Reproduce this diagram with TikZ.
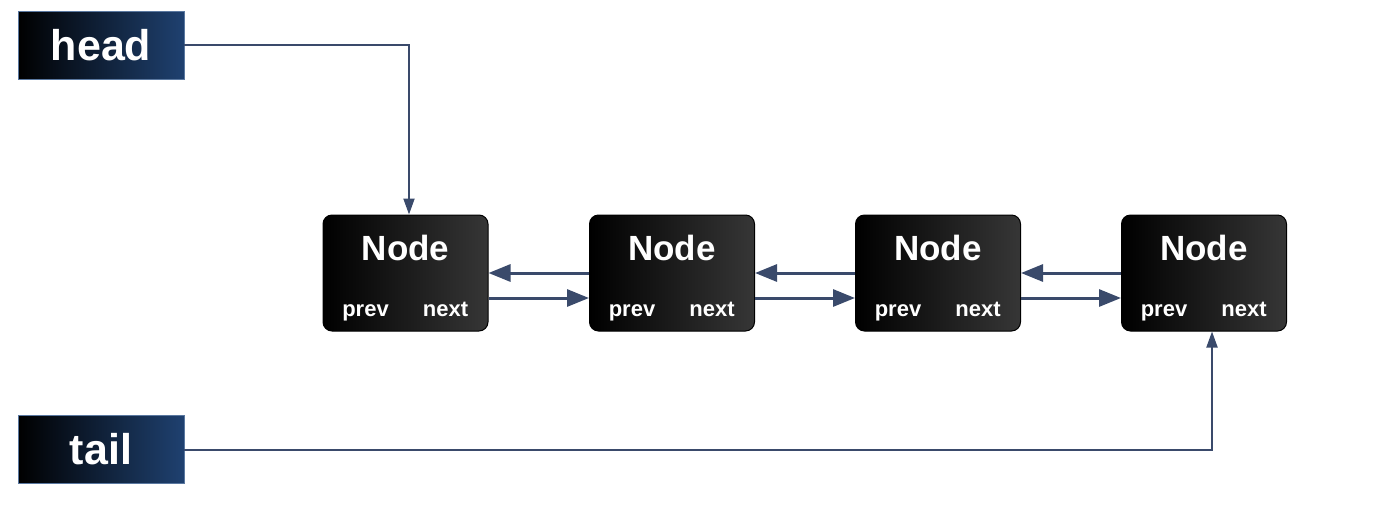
\documentclass[tikz,border=0pt]{standalone}
\usepackage{fontspec}
\setmainfont{Liberation Sans}
\usetikzlibrary{arrows.meta}
\definecolor{arrowc}{HTML}{3A4A6B}
\definecolor{boxblue}{HTML}{1F4170}
\definecolor{boxedge}{HTML}{5A78A0}
\definecolor{nodegray}{HTML}{363636}
\tikzset{
  ptrbox/.style={draw=boxedge, line width=0.8pt, minimum width=166pt, minimum height=68pt,
    left color=black, right color=boxblue, inner sep=0pt},
  listnode/.style={draw=black, line width=1pt, rounded corners=9pt, minimum width=165pt,
    minimum height=116pt, left color=black, right color=nodegray, inner sep=0pt},
  boxtext/.style={text=white, font=\fontsize{43}{43}\selectfont\bfseries, inner sep=0pt},
  nodetitle/.style={text=white, font=\fontsize{35}{35}\selectfont\bfseries, inner sep=0pt},
  fieldtext/.style={text=white, font=\fontsize{22}{22}\selectfont\bfseries, inner sep=0pt},
  ptr/.style={draw=arrowc, line width=3pt, -{Triangle[length=22pt,width=17pt]}},
  thinptr/.style={draw=arrowc, line width=2pt, -{Triangle[length=16pt,width=11pt]}},
}
\begin{document}
\begin{tikzpicture}[x=1pt,y=-1pt]
\useasboundingbox (0,0) rectangle (1384,504);
\node[ptrbox] (head) at (101,45) {};
\node[boxtext] (headt) at (head.center) {head};
\node[ptrbox] (tail) at (101,449.5) {};
\node[boxtext] (tailt) at (tail.center) {tail};
\foreach \i/\x in {1/405.5,2/672,3/938,4/1204}{
  \node[listnode] (n\i) at (\x,273) {};
  \node[nodetitle] (t\i) at (\x,248) {Node};
  \node[fieldtext, anchor=base] (p\i) at (\x-40,316) {prev};
  \node[fieldtext, anchor=base] (x\i) at (\x+40,316) {next};
}
\foreach \a/\b in {1/2,2/3,3/4}{
  \draw[ptr] (n\b.west) -- (n\a.east);
  \draw[ptr] ([yshift=-25pt]n\a.east) -- ([yshift=-25pt]n\b.west);
}
\draw[thinptr] (head.east) -| ([xshift=3.5pt]n1.north);
\draw[thinptr] (tail.east) -| ([xshift=8pt]n4.south);
\end{tikzpicture}
\end{document}
